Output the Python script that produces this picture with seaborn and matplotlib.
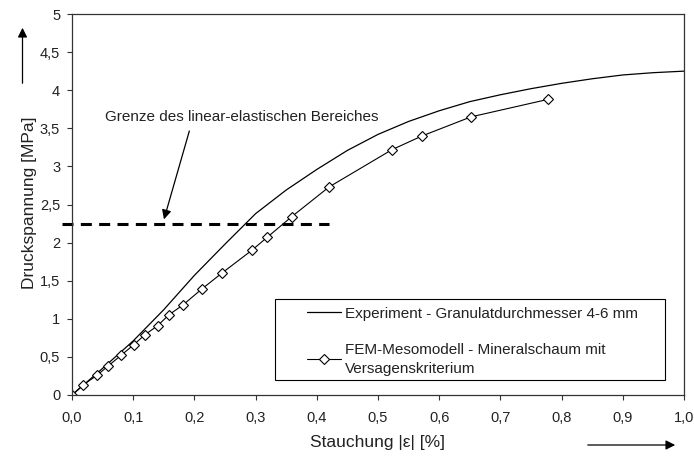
import matplotlib
matplotlib.use("Agg")
import matplotlib.pyplot as plt
import matplotlib.patches as mpatches
import seaborn as sns
import pandas as pd
from matplotlib.lines import Line2D

sns.set_theme(style="white")
plt.rcParams['font.family'] = ['Liberation Sans', 'DejaVu Sans']

# Experiment curve
exp_x = [0.0, 0.05, 0.10, 0.15, 0.20, 0.25, 0.30, 0.35, 0.40, 0.45, 0.50, 0.55,
         0.60, 0.65, 0.70, 0.75, 0.80, 0.85, 0.90, 0.95, 1.00]
exp_y = [0.0, 0.35, 0.71, 1.12, 1.57, 1.98, 2.38, 2.69, 2.96, 3.21, 3.42, 3.59,
         3.73, 3.85, 3.94, 4.02, 4.09, 4.15, 4.20, 4.23, 4.25]

# FEM-Mesomodell
fem_x = [0.0, 0.018, 0.041, 0.059, 0.08, 0.101, 0.119, 0.14, 0.158, 0.181, 0.212,
         0.245, 0.294, 0.319, 0.359, 0.42, 0.523, 0.572, 0.652, 0.778]
fem_y = [0.0, 0.13, 0.26, 0.38, 0.52, 0.66, 0.79, 0.91, 1.05, 1.18, 1.39,
         1.60, 1.90, 2.07, 2.34, 2.73, 3.22, 3.40, 3.65, 3.88]

limit_y = 2.25
limit_x = [-0.017, 0.42]

x_ticks = [0.0, 0.1, 0.2, 0.3, 0.4, 0.5, 0.6, 0.7, 0.8, 0.9, 1.0]
x_labels = ["0,0", "0,1", "0,2", "0,3", "0,4", "0,5", "0,6", "0,7", "0,8", "0,9", "1,0"]
y_ticks = [0, 0.5, 1, 1.5, 2, 2.5, 3, 3.5, 4, 4.5, 5]
y_labels = ["0", "0,5", "1", "1,5", "2", "2,5", "3", "3,5", "4", "4,5", "5"]

lab_exp = "Experiment - Granulatdurchmesser 4-6 mm"
lab_fem = "FEM-Mesomodell - Mineralschaum mit\nVersagenskriterium"

TXT = "#222222"

fig = plt.figure(figsize=(6.94, 4.59), dpi=100)
ax = fig.add_axes([72/694, 1-395/459, (684-72)/694, (395-14)/459])

df_exp = pd.DataFrame({"x": exp_x, "y": exp_y})
df_fem = pd.DataFrame({"x": fem_x, "y": fem_y})

sns.lineplot(data=df_exp, x="x", y="y", ax=ax, color="black", lw=0.9, sort=False, estimator=None)
sns.lineplot(data=df_fem, x="x", y="y", ax=ax, color="black", lw=0.8, sort=False, estimator=None,
             marker="D", markersize=5, markerfacecolor="white", markeredgecolor="black",
             markeredgewidth=0.8)

ax.plot(limit_x, [limit_y, limit_y], color="black", lw=2.2, linestyle=(0, (3.6, 2.4)), clip_on=False)

ax.set_xlim(0, 1.0)
ax.set_ylim(0, 5)
ax.set_xticks(x_ticks)
ax.set_xticklabels(x_labels)
ax.set_yticks(y_ticks)
ax.set_yticklabels(y_labels)
ax.tick_params(axis="both", direction="out", length=3.5, width=0.8, color="#333333",
               labelsize=10.5, labelcolor=TXT, bottom=True, left=True)
ax.tick_params(axis="x", pad=8)
ax.tick_params(axis="y", pad=5)
for s in ax.spines.values():
    s.set_color("#333333")
    s.set_linewidth(0.9)

ax.set_xlabel("Stauchung |ε| [%]", fontsize=12.5, color=TXT)
ax.set_ylabel("Druckspannung [MPa]", fontsize=12.5, color=TXT)
ax.xaxis.set_label_coords(0.5, -0.105)
ax.yaxis.set_label_coords(-0.058, 0.505)

ax.annotate("", xy=(0.149, 2.27), xytext=(0.193, 3.50),
            arrowprops=dict(arrowstyle="-|>", color="black", lw=0.9, mutation_scale=14))
ax.text(0.054, 3.65, "Grenze des linear-elastischen Bereiches", fontsize=11,
        color=TXT, va="center", ha="left")

# axis direction arrows
fig.add_artist(mpatches.FancyArrowPatch(
    (22.5/694, 1-86/459), (22.5/694, 1-25/459), transform=fig.transFigure,
    arrowstyle="-|>", mutation_scale=14, color="black", lw=0.9))
fig.add_artist(mpatches.FancyArrowPatch(
    (585/694, 1-445/459), (678/694, 1-445/459), transform=fig.transFigure,
    arrowstyle="-|>", mutation_scale=14, color="black", lw=0.9))

# legend frame
ax.add_patch(mpatches.Rectangle((0.3317, 0.0394), 0.969-0.3317, 0.252-0.0394,
                                transform=ax.transAxes, facecolor="white",
                                edgecolor="black", lw=0.8, zorder=4))
handles = [Line2D([], [], color="black", lw=0.9),
           Line2D([], [], color="black", lw=0.8, marker="D", markersize=5,
                  markerfacecolor="white", markeredgecolor="black", markeredgewidth=0.8)]
leg = ax.legend(handles, [lab_exp, lab_fem], loc="upper left",
                bbox_to_anchor=(0.384, 0.232), fontsize=11, frameon=False,
                handlelength=2.2, handletextpad=0.3, labelspacing=1.45, borderpad=0,
                borderaxespad=0)
leg.set_zorder(5)
for t in leg.get_texts():
    t.set_color(TXT)
    t.set_linespacing(1.45)

fig.savefig("out.png", dpi=100)
